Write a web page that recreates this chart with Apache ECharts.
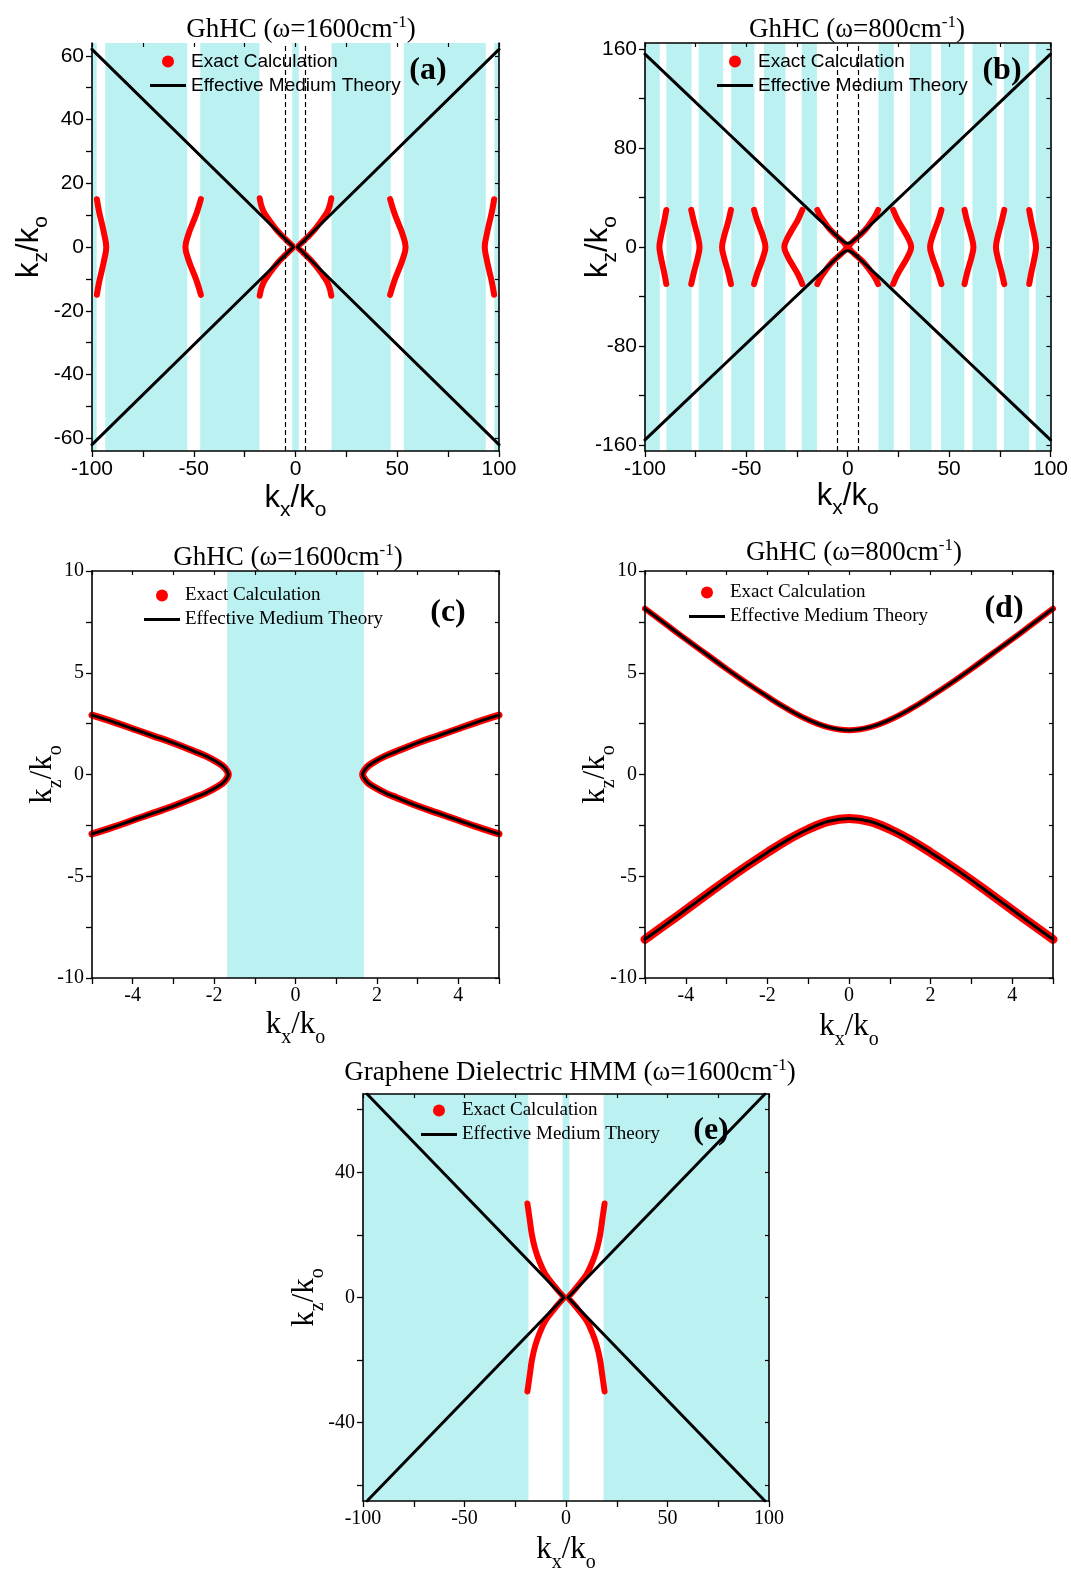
<!DOCTYPE html>
<html lang="en">
<head>
<meta charset="utf-8">
<title>GhHC iso-frequency contours</title>
<script src="https://cdn.jsdelivr.net/npm/echarts@6.0.0/dist/echarts.min.js"></script>
<style>
  html, body { margin: 0; padding: 0; background: #fff; }
  #main { width: 1071px; height: 1574px; }
</style>
</head>
<body>
<div id="main"></div>
<script type="text/javascript">
// ---------- data ----------

// (a) GhHC, w = 1600 cm-1
var aBands = [[-100, -97.7], [-93.5, -53.2], [-46.8, -17.7], [-1.6, 1.6], [17.7, 46.8], [53.2, 93.5], [97.7, 100]];
var aDashes = [-5, 5];
var aEmt = [
    [[-100, 62], [-1, 0], [-100, -62]],
    [[100, 62], [1, 0], [100, -62]]
];
var aExact = [
    [[-97.6, 15], [-96.5, 11], [-95.2, 7.5], [-94, 4], [-93, 0], [-94, -4], [-95.2, -7.5], [-96.5, -11], [-97.6, -15]],
    [[-46.5, 15], [-48.4, 11], [-50.5, 7.5], [-52.6, 4], [-54.1, 0], [-52.6, -4], [-50.5, -7.5], [-48.4, -11], [-46.5, -15]],
    [[-17.6, 15.3], [-16.8, 13], [-15.6, 11], [-13.6, 9], [-11.3, 7], [-8.8, 5], [-5.8, 3], [-3.4, 1.5], [-1.2, 0],
     [-3.4, -1.5], [-5.8, -3], [-8.8, -5], [-11.3, -7], [-13.6, -9], [-15.6, -11], [-16.8, -13], [-17.6, -15.3]],
    [[17.6, 15.3], [16.8, 13], [15.6, 11], [13.6, 9], [11.3, 7], [8.8, 5], [5.8, 3], [3.4, 1.5], [1.2, 0],
     [3.4, -1.5], [5.8, -3], [8.8, -5], [11.3, -7], [13.6, -9], [15.6, -11], [16.8, -13], [17.6, -15.3]],
    [[46.5, 15], [48.4, 11], [50.5, 7.5], [52.6, 4], [54.1, 0], [52.6, -4], [50.5, -7.5], [48.4, -11], [46.5, -15]],
    [[97.6, 15], [96.5, 11], [95.2, 7.5], [94, 4], [93, 0], [94, -4], [95.2, -7.5], [96.5, -11], [97.6, -15]]
];
var abXLabels = [-100, -50, 0, 50, 100];
var abXTicks = [-100, -75, -50, -25, 0, 25, 50, 75, 100];
var aYLabels = [-60, -40, -20, 0, 20, 40, 60];
var aYTicks = [-60, -50, -40, -30, -20, -10, 0, 10, 20, 30, 40, 50, 60];

// (b) GhHC, w = 800 cm-1
var bBands = [[-100, -92.7], [-89.5, -77], [-73.5, -61.5], [-57.5, -46], [-41.3, -30.7], [-22.7, -15.2],
              [15.2, 22.7], [30.7, 41.3], [46, 57.5], [61.5, 73.5], [77, 89.5], [92.7, 100]];
var bDashes = [-5, 5];
var bEmt = [
    [[-100, 156], [-60, 93.6], [-30, 46.9], [-15, 23.6], [-6, 9.8], [-2, 4.3], [0, 3], [2, 4.3], [6, 9.8], [15, 23.6], [30, 46.9], [60, 93.6], [100, 156]],
    [[-100, -156], [-60, -93.6], [-30, -46.9], [-15, -23.6], [-6, -9.8], [-2, -4.3], [0, -3], [2, -4.3], [6, -9.8], [15, -23.6], [30, -46.9], [60, -93.6], [100, -156]]
];
var bExact = [
    [[-89.5, 30], [-90.4, 22], [-91.3, 15], [-92.2, 8], [-92.9, 0], [-92.2, -8], [-91.3, -15], [-90.4, -22], [-89.5, -30]],
    [[-77.2, 30], [-76.1, 22], [-75, 15], [-73.9, 8], [-73.1, 0], [-73.9, -8], [-75, -15], [-76.1, -22], [-77.2, -30]],
    [[-57.6, 30], [-58.7, 22], [-59.9, 15], [-61.1, 8], [-62, 0], [-61.1, -8], [-59.9, -15], [-58.7, -22], [-57.6, -30]],
    [[-46.2, 30], [-44.8, 22], [-43.2, 15], [-41.7, 8], [-40.6, 0], [-41.7, -8], [-43.2, -15], [-44.8, -22], [-46.2, -30]],
    [[-22.4, 30], [-24.6, 22], [-27.1, 15], [-29.5, 8], [-31.3, 0], [-29.5, -8], [-27.1, -15], [-24.6, -22], [-22.4, -30]],
    [[-15, 30], [-13.5, 25], [-11, 19], [-8.4, 13.5], [-5.6, 9], [-3.2, 5.5], [-1.4, 2.5], [-0.6, 0],
     [-1.4, -2.5], [-3.2, -5.5], [-5.6, -9], [-8.4, -13.5], [-11, -19], [-13.5, -25], [-15, -30]],
    [[15, 30], [13.5, 25], [11, 19], [8.4, 13.5], [5.6, 9], [3.2, 5.5], [1.4, 2.5], [0.6, 0],
     [1.4, -2.5], [3.2, -5.5], [5.6, -9], [8.4, -13.5], [11, -19], [13.5, -25], [15, -30]],
    [[22.4, 30], [24.6, 22], [27.1, 15], [29.5, 8], [31.3, 0], [29.5, -8], [27.1, -15], [24.6, -22], [22.4, -30]],
    [[46.2, 30], [44.8, 22], [43.2, 15], [41.7, 8], [40.6, 0], [41.7, -8], [43.2, -15], [44.8, -22], [46.2, -30]],
    [[57.6, 30], [58.7, 22], [59.9, 15], [61.1, 8], [62, 0], [61.1, -8], [59.9, -15], [58.7, -22], [57.6, -30]],
    [[77.2, 30], [76.1, 22], [75, 15], [73.9, 8], [73.1, 0], [73.9, -8], [75, -15], [76.1, -22], [77.2, -30]],
    [[89.5, 30], [90.4, 22], [91.3, 15], [92.2, 8], [92.9, 0], [92.2, -8], [91.3, -15], [90.4, -22], [89.5, -30]]
];
var bYLabels = [-160, -80, 0, 80, 160];
var bYTicks = [-160, -120, -80, -40, 0, 40, 80, 120, 160];

// (c) GhHC, w = 1600 cm-1, zoom
var cBands = [[-1.68, 1.68]];
var cBranches = [
    [[-5, 2.92], [-4.5, 2.6], [-4, 2.25], [-3.5, 1.9], [-3, 1.55], [-2.5, 1.15], [-2.2, 0.9], [-1.9, 0.58], [-1.75, 0.35], [-1.65, 0],
     [-1.75, -0.35], [-1.9, -0.58], [-2.2, -0.9], [-2.5, -1.15], [-3, -1.55], [-3.5, -1.9], [-4, -2.25], [-4.5, -2.6], [-5, -2.92]],
    [[5, 2.92], [4.5, 2.6], [4, 2.25], [3.5, 1.9], [3, 1.55], [2.5, 1.15], [2.2, 0.9], [1.9, 0.58], [1.75, 0.35], [1.65, 0],
     [1.75, -0.35], [1.9, -0.58], [2.2, -0.9], [2.5, -1.15], [3, -1.55], [3.5, -1.9], [4, -2.25], [4.5, -2.6], [5, -2.92]]
];
var cdXLabels = [-4, -2, 0, 2, 4];
var cdXTicks = [-5, -4, -3, -2, -1, 0, 1, 2, 3, 4, 5];
var cdYLabels = [-10, -5, 0, 5, 10];
var cdYTicks = [-10, -7.5, -5, -2.5, 0, 2.5, 5, 7.5, 10];

// (d) GhHC, w = 800 cm-1, zoom
var dUpper = [[-5, 8.15], [-4.5, 7.4], [-4, 6.65], [-3.5, 5.92], [-3, 5.19], [-2.5, 4.49], [-2, 3.83], [-1.5, 3.21], [-1, 2.69], [-0.5, 2.32], [0, 2.18],
              [0.5, 2.32], [1, 2.69], [1.5, 3.21], [2, 3.83], [2.5, 4.49], [3, 5.19], [3.5, 5.92], [4, 6.65], [4.5, 7.4], [5, 8.15]];
var dLower = [[-5, -8.1], [-4.5, -7.38], [-4, -6.65], [-3.5, -5.92], [-3, -5.19], [-2.5, -4.49], [-2, -3.83], [-1.5, -3.21], [-1, -2.69], [-0.5, -2.3], [0, -2.16],
              [0.5, -2.3], [1, -2.69], [1.5, -3.21], [2, -3.83], [2.5, -4.49], [3, -5.19], [3.5, -5.92], [4, -6.65], [4.5, -7.38], [5, -8.1]];

// (e) graphene-dielectric HMM, w = 1600 cm-1
var eBands = [[-100, -18.5], [-1.7, 1.7], [18.5, 100]];
var eEmt = [
    [[-98, 65], [-1, 0], [-98, -65]],
    [[98, 65], [1, 0], [98, -65]]
];
var eExact = [
    [[-19, 30], [-17.9, 25], [-16.8, 20], [-15.2, 15.5], [-13.2, 11.7], [-10.2, 7.5], [-5.8, 3.7], [-2.7, 1.3], [-1.2, 0],
     [-2.7, -1.3], [-5.8, -3.7], [-10.2, -7.5], [-13.2, -11.7], [-15.2, -15.5], [-16.8, -20], [-17.9, -25], [-19, -30]],
    [[19, 30], [17.9, 25], [16.8, 20], [15.2, 15.5], [13.2, 11.7], [10.2, 7.5], [5.8, 3.7], [2.7, 1.3], [1.2, 0],
     [2.7, -1.3], [5.8, -3.7], [10.2, -7.5], [13.2, -11.7], [15.2, -15.5], [16.8, -20], [17.9, -25], [19, -30]]
];
var eXLabels = [-100, -50, 0, 50, 100];
var eXTicks = [-100, -75, -50, -25, 0, 25, 50, 75, 100];
var eYLabels = [-40, 0, 40];
var eYTicks = [-60, -40, -20, 0, 20, 40, 60];

// ---------- chart ----------
var SANS = "'Liberation Sans', Arial, sans-serif";
var SERIF = "'Liberation Serif', 'Times New Roman', serif";
var CYAN = '#bcf1f1';
var RED = '#ff0000';
var EXACT = 'Exact Calculation';
var EMT = 'Effective Medium Theory';

var myChart = echarts.init(document.getElementById('main'));

var panels = [
    {grid: {left: 92, top: 43, width: 407, height: 408}, font: SANS, labelSize: 21, nameSize: 31, subSize: 21,
     xr: [-100, 100], yr: [-64, 64], xl: abXLabels, xt: abXTicks, yl: aYLabels, yt: aYTicks, xGap: 24, yGap: 40, topLine: false},
    {grid: {left: 645, top: 43, width: 407, height: 408}, font: SANS, labelSize: 21, nameSize: 31, subSize: 21,
     xr: [-100, 100], yr: [-165, 165], xl: abXLabels, xt: abXTicks, yl: bYLabels, yt: bYTicks, xGap: 22, yGap: 24, topLine: true},
    {grid: {left: 92, top: 571, width: 407, height: 407}, font: SERIF, labelSize: 20, nameSize: 31, subSize: 20,
     xr: [-5, 5], yr: [-10, 10], xl: cdXLabels, xt: cdXTicks, yl: cdYLabels, yt: cdYTicks, xGap: 24, yGap: 26, topLine: true},
    {grid: {left: 645, top: 571, width: 408, height: 407}, font: SERIF, labelSize: 20, nameSize: 31, subSize: 20,
     xr: [-5, 5], yr: [-10, 10], xl: cdXLabels, xt: cdXTicks, yl: cdYLabels, yt: cdYTicks, xGap: 26, yGap: 26, topLine: true},
    {grid: {left: 363, top: 1094, width: 406, height: 408}, font: SERIF, labelSize: 20, nameSize: 31, subSize: 20,
     xr: [-100, 100], yr: [-65, 65], xl: eXLabels, xt: eXTicks, yl: eYLabels, yt: eYTicks, xGap: 26, yGap: 35, topLine: true}
];

function mainAxis(i, pos, range, labels, ticks, p, sub, gap) {
    return {
        type: 'value', gridIndex: i, position: pos, min: range[0], max: range[1], z: 10,
        splitLine: {show: false},
        axisLine: {show: true, onZero: false, lineStyle: {color: '#000', width: 1.6}},
        axisTick: {show: true, inside: false, length: 6, customValues: ticks, lineStyle: {color: '#000', width: 1.3}},
        axisLabel: {show: true, customValues: labels, fontFamily: p.font, fontSize: p.labelSize, color: '#000', margin: 8},
        name: '{k|k}{s|' + sub + '}{k|/k}{s|o}',
        nameLocation: 'middle',
        nameGap: gap,
        nameMoveOverlap: false,
        nameTextStyle: {
            rich: {
                k: {fontFamily: p.font, fontSize: p.nameSize, lineHeight: 46, color: '#000'},
                s: {fontFamily: p.font, fontSize: p.subSize, lineHeight: 18, verticalAlign: 'bottom', color: '#000'}
            }
        }
    };
}

function mirrorAxis(i, pos, range, ticks, showLine) {
    return {
        type: 'value', gridIndex: i, position: pos, min: range[0], max: range[1], z: 10,
        splitLine: {show: false},
        axisLine: {show: showLine, onZero: false, lineStyle: {color: '#000', width: 1.6}},
        axisTick: {show: true, inside: true, length: 4, customValues: ticks, lineStyle: {color: '#000', width: 1.2}},
        axisLabel: {show: false}
    };
}

var grids = [], xAxes = [], yAxes = [];
panels.forEach(function (p, i) {
    grids.push(p.grid);
    xAxes.push(mainAxis(i, 'bottom', p.xr, p.xl, p.xt, p, 'x', p.xGap));
    xAxes.push(mirrorAxis(i, 'top', p.xr, p.xt, p.topLine));
    yAxes.push(mainAxis(i, 'left', p.yr, p.yl, p.yt, p, 'z', p.yGap));
    yAxes.push(mirrorAxis(i, 'right', p.yr, p.yt, true));
});

var series = [];

function addBands(i, bands, dashes) {
    var s = {
        type: 'line', name: 'bands' + i, xAxisIndex: 2 * i, yAxisIndex: 2 * i, data: [], z: 1, silent: true,
        markArea: {
            silent: true,
            itemStyle: {color: CYAN},
            data: bands.map(function (b) { return [{xAxis: b[0]}, {xAxis: b[1]}]; })
        }
    };
    if (dashes) {
        s.markLine = {
            silent: true, symbol: 'none', label: {show: false},
            lineStyle: {type: [5, 3], color: '#000', width: 1.2},
            data: dashes.map(function (v) { return {xAxis: v}; })
        };
    }
    series.push(s);
}

function addCurve(i, name, data, color, width, z, smooth) {
    series.push({
        type: 'line', name: name, xAxisIndex: 2 * i, yAxisIndex: 2 * i,
        data: data, symbol: 'none', showSymbol: false, smooth: smooth, z: z, silent: true,
        lineStyle: {color: color, width: width, cap: 'round', join: 'round'},
        itemStyle: {color: color}
    });
}

// (a)
addBands(0, aBands, aDashes);
aExact.forEach(function (c) { addCurve(0, EXACT, c, RED, 6, 3, 0.4); });
aEmt.forEach(function (c) { addCurve(0, EMT, c, '#000', 3, 4, false); });
// (b)
addBands(1, bBands, bDashes);
bExact.forEach(function (c) { addCurve(1, EXACT, c, RED, 6, 3, 0.4); });
bEmt.forEach(function (c) { addCurve(1, EMT, c, '#000', 3, 4, 0.3); });
// (c)
addBands(2, cBands, null);
cBranches.forEach(function (c) { addCurve(2, EXACT, c, RED, 7, 3, 0.4); });
cBranches.forEach(function (c) { addCurve(2, EMT, c, '#000', 3, 4, 0.4); });
// (d)
addCurve(3, EXACT, dUpper, RED, 6, 3, 0.4);
addCurve(3, EXACT, dLower, RED, 9, 3, 0.4);
addCurve(3, EMT, dUpper, '#000', 3, 4, 0.4);
addCurve(3, EMT, dLower, '#000', 3, 4, 0.4);
// (e)
addBands(4, eBands, null);
eExact.forEach(function (c) { addCurve(4, EXACT, c, RED, 6, 3, 0.4); });
eEmt.forEach(function (c) { addCurve(4, EMT, c, '#000', 3, 4, false); });

function legendAt(left, top, font) {
    return {
        left: left, top: top, orient: 'vertical', padding: 0, itemWidth: 36, itemHeight: 12, itemGap: 5,
        selectedMode: false, z: 20,
        textStyle: {fontFamily: font, fontSize: 19, color: '#000'},
        data: [
            {name: EXACT, icon: 'circle', itemStyle: {color: RED}},
            {name: EMT, icon: 'path://M0,0H36V3H0Z', itemStyle: {color: '#000'}}
        ]
    };
}

function heading(cx, cy, head, sup) {
    return {
        type: 'text', x: cx, y: cy, z: 50,
        style: {
            text: '{t|' + head + '}{s|' + sup + '}{t|)}',
            align: 'center', verticalAlign: 'middle', textAlign: 'center', textVerticalAlign: 'middle',
            rich: {
                t: {fontFamily: SERIF, fontSize: 27, lineHeight: 32, fill: '#000'},
                s: {fontFamily: SERIF, fontSize: 17, lineHeight: 14, verticalAlign: 'top', fill: '#000'}
            }
        }
    };
}

function letter(cx, cy, txt) {
    return {
        type: 'text', x: cx, y: cy, z: 50,
        style: {
            text: txt, fontFamily: SERIF, fontSize: 32, fontWeight: 'bold', fill: '#000',
            align: 'center', verticalAlign: 'middle', textAlign: 'center', textVerticalAlign: 'middle'
        }
    };
}

myChart.setOption({
    animation: false,
    backgroundColor: '#fff',
    grid: grids,
    xAxis: xAxes,
    yAxis: yAxes,
    legend: [
        legendAt(150, 52, SANS),
        legendAt(717, 52, SANS),
        legendAt(144, 586, SERIF),
        legendAt(689, 583, SERIF),
        legendAt(421, 1101, SERIF)
    ],
    graphic: [
        heading(301, 30, 'GhHC (\u03c9=1600cm', '-1'),
        heading(857, 30, 'GhHC (\u03c9=800cm', '-1'),
        heading(288, 558, 'GhHC (\u03c9=1600cm', '-1'),
        heading(854, 553, 'GhHC (\u03c9=800cm', '-1'),
        heading(570, 1073, 'Graphene Dielectric HMM (\u03c9=1600cm', '-1'),
        letter(428, 71, '(a)'),
        letter(1002, 71, '(b)'),
        letter(448, 613, '(c)'),
        letter(1004, 609, '(d)'),
        letter(711, 1131, '(e)')
    ],
    series: series
});
</script>
</body>
</html>
